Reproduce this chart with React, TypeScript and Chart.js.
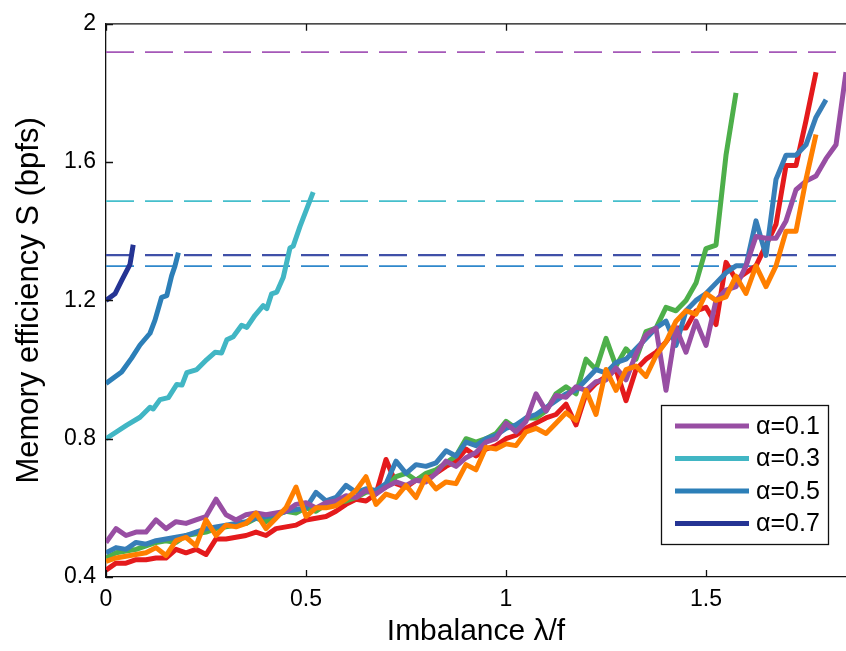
import React, { useEffect, useRef } from "react";
import { Chart, registerables } from "chart.js";

Chart.register(...registerables);

// ---------- data ----------
const lambdaGrid = [
  0, 0.025, 0.05, 0.075, 0.1, 0.125, 0.15, 0.175, 0.2, 0.225,
  0.25, 0.275, 0.3, 0.325, 0.35, 0.375, 0.4, 0.425, 0.45, 0.475,
  0.5, 0.525, 0.55, 0.575, 0.6, 0.625, 0.65, 0.675, 0.7, 0.725,
  0.75, 0.775, 0.8, 0.825, 0.85, 0.875, 0.9, 0.925, 0.95, 0.975,
  1.0, 1.025, 1.05, 1.075, 1.1, 1.125, 1.15, 1.175, 1.2, 1.225,
  1.25, 1.275, 1.3, 1.325, 1.35, 1.375, 1.4, 1.425, 1.45, 1.475,
  1.5, 1.525, 1.55, 1.575, 1.6, 1.625, 1.65, 1.675, 1.7, 1.725,
  1.75, 1.775, 1.8, 1.825, 1.85,
];

const sPurple = [
  0.50, 0.54, 0.52, 0.53, 0.53, 0.565, 0.54, 0.56, 0.555, 0.565,
  0.575, 0.625, 0.58, 0.565, 0.58, 0.585, 0.58, 0.585, 0.59, 0.61,
  0.615, 0.60, 0.615, 0.62, 0.635, 0.63, 0.65, 0.64, 0.66, 0.675,
  0.665, 0.68, 0.675, 0.70, 0.735, 0.72, 0.745, 0.76, 0.79, 0.80,
  0.845, 0.82, 0.85, 0.93, 0.88, 0.925, 0.92, 0.95, 0.94, 0.965,
  0.97, 1.005, 0.97, 1.045, 1.10, 1.12, 0.94, 1.12, 1.05, 1.14,
  1.07, 1.20, 1.23, 1.24, 1.30, 1.385, 1.38, 1.38, 1.43, 1.52,
  1.545, 1.56, 1.61, 1.65, 1.86,
];

const sRed = [
  0.42, 0.44, 0.44, 0.45, 0.45, 0.455, 0.455, 0.48, 0.47, 0.48,
  0.465, 0.51, 0.51, 0.515, 0.52, 0.53, 0.52, 0.54, 0.545, 0.55,
  0.565, 0.57, 0.575, 0.59, 0.61, 0.625, 0.62, 0.64, 0.74, 0.67,
  0.66, 0.68, 0.695, 0.70, 0.72, 0.735, 0.77, 0.75, 0.77, 0.78,
  0.80, 0.81, 0.83, 0.845, 0.86, 0.87, 0.90, 0.84, 0.93, 0.96,
  0.98, 1.00, 0.91, 1.00, 1.03, 1.05, 1.08, 1.12, 1.12, 1.17,
  1.18, 1.13, 1.31, 1.26, 1.28, 1.30, 1.36, 1.42, 1.59, 1.59,
  1.72, 1.86,
];

const sGreen = [
  0.455, 0.47, 0.475, 0.48, 0.49, 0.50, 0.505, 0.50, 0.52, 0.525,
  0.53, 0.54, 0.545, 0.55, 0.555, 0.57, 0.56, 0.58, 0.59, 0.585,
  0.60, 0.59, 0.61, 0.615, 0.62, 0.63, 0.645, 0.65, 0.66, 0.69,
  0.70, 0.68, 0.70, 0.71, 0.73, 0.75, 0.80, 0.79, 0.80, 0.815,
  0.85, 0.83, 0.86, 0.86, 0.88, 0.93, 0.95, 0.93, 1.03, 1.00,
  1.09, 1.01, 1.06, 1.03, 1.11, 1.12, 1.18, 1.17, 1.20, 1.25,
  1.35, 1.36, 1.62, 1.80,
];

const sBlue = [
  0.47, 0.485, 0.48, 0.50, 0.495, 0.505, 0.51, 0.515, 0.52, 0.53,
  0.54, 0.545, 0.55, 0.555, 0.56, 0.57, 0.575, 0.58, 0.59, 0.595,
  0.60, 0.645, 0.62, 0.63, 0.665, 0.645, 0.655, 0.65, 0.67, 0.735,
  0.70, 0.725, 0.72, 0.73, 0.765, 0.75, 0.79, 0.78, 0.80, 0.81,
  0.83, 0.84, 0.86, 0.87, 0.89, 0.91, 0.93, 0.94, 0.97, 1.00,
  0.99, 1.02, 1.03, 1.06, 1.09, 1.12, 1.14, 1.07, 1.17, 1.20,
  1.22, 1.25, 1.28, 1.30, 1.30, 1.43, 1.33, 1.55, 1.62, 1.62,
  1.65, 1.73, 1.78,
];

const sOrange = [
  0.445, 0.455, 0.46, 0.465, 0.47, 0.485, 0.462, 0.505, 0.515, 0.49,
  0.565, 0.52, 0.55, 0.545, 0.555, 0.585, 0.54, 0.57, 0.60, 0.66,
  0.575, 0.60, 0.60, 0.606, 0.625, 0.65, 0.69, 0.61, 0.64, 0.63,
  0.665, 0.63, 0.69, 0.655, 0.675, 0.67, 0.725, 0.71, 0.775, 0.77,
  0.785, 0.78, 0.82, 0.83, 0.815, 0.845, 0.875, 0.853, 0.94, 0.87,
  1.00, 0.94, 1.00, 1.01, 0.98, 1.04, 1.08, 1.14, 1.17, 1.16,
  1.22, 1.20, 1.21, 1.27, 1.22, 1.30, 1.24, 1.30, 1.40, 1.40,
  1.55, 1.68,
];

const alpha03X = [0, 0.052, 0.085, 0.11, 0.118, 0.135, 0.156, 0.177, 0.19, 0.202, 0.227, 0.252, 0.2725, 0.289, 0.302, 0.318, 0.339, 0.352, 0.3725, 0.393, 0.402, 0.414, 0.427, 0.443, 0.46, 0.468, 0.485, 0.518];
const alpha03Y = [0.80, 0.839, 0.862, 0.891, 0.886, 0.913, 0.919, 0.957, 0.955, 0.991, 1.0, 1.029, 1.05, 1.048, 1.086, 1.095, 1.128, 1.122, 1.157, 1.185, 1.176, 1.219, 1.224, 1.266, 1.352, 1.357, 1.414, 1.513];

const alpha05X = [0, 0.039, 0.064, 0.085, 0.11, 0.1225, 0.139, 0.152, 0.164, 0.1725, 0.181];
const alpha05Y = [0.96, 0.993, 1.033, 1.071, 1.105, 1.143, 1.209, 1.214, 1.271, 1.30, 1.338];

const alpha07X = [0, 0.0225, 0.039, 0.06, 0.068];
const alpha07Y = [1.20, 1.219, 1.257, 1.304, 1.361];

const boundX = [0, 1.85];
const boundAlpha01 = 1.918;
const boundAlpha03 = 1.487;
const boundAlpha05 = 1.299;
const boundAlpha07 = 1.331;

const legendLabels = ["α=0.1", "α=0.3", "α=0.5", "α=0.7"];
const xTickValues = [0, 0.5, 1, 1.5];
const xTickLabels = ["0", "0.5", "1", "1.5"];
const yTickValues = [0.4, 0.8, 1.2, 1.6, 2];
const yTickLabels = ["0.4", "0.8", "1.2", "1.6", "2"];

// ---------- styles ----------
const FONT = "'Liberation Sans', Arial, Helvetica, sans-serif";
const C = {
  purple: "#984ea3",
  red: "#e41a1c",
  green: "#4daf4a",
  blue: "#377eb8",
  orange: "#ff7f00",
  a03: "#41b6c4",
  a05: "#2c7fb8",
  a07: "#253494",
  dPurple: "#a558b8",
  dCyan: "#45bfcc",
  dBlue: "#2f88cc",
  dNavy: "#4050a8",
};

const pts = (xs: number[], ys: number[]) => ys.map((y, i) => ({ x: xs[i], y }));
const flat = (v: number) => boundX.map((x) => ({ x, y: v }));

const frameTicks = {
  id: "frameTicks",
  afterDatasetsDraw(chart: any) {
    const { ctx, chartArea: a, scales } = chart;
    const x = scales.x;
    const y = scales.y;
    ctx.save();
    ctx.strokeStyle = "#111";
    ctx.lineWidth = 1.3;
    ctx.beginPath();
    ctx.moveTo(a.left, a.top);
    ctx.lineTo(a.right, a.top);
    x.ticks.forEach((t: any) => {
      const px = Math.round(x.getPixelForValue(t.value)) + 0.5;
      ctx.moveTo(px, a.bottom);
      ctx.lineTo(px, a.bottom - 7);
      ctx.moveTo(px, a.top);
      ctx.lineTo(px, a.top + 7);
    });
    y.ticks.forEach((t: any) => {
      const py = Math.round(y.getPixelForValue(t.value)) + 0.5;
      ctx.moveTo(a.left, py);
      ctx.lineTo(a.left + 7, py);
    });
    ctx.stroke();
    ctx.restore();
  },
};

const boxLegend = {
  id: "boxLegend",
  afterDraw(chart: any) {
    const { ctx, chartArea: a } = chart;
    const items = chart.data.datasets.filter((d: any) => d.legendIndex !== undefined)
      .sort((p: any, q: any) => p.legendIndex - q.legendIndex);
    const w = 167;
    const h = 139;
    const left = a.right - 18 - w;
    const top = a.bottom - 33 - h;
    ctx.save();
    ctx.fillStyle = "#fff";
    ctx.fillRect(left, top, w, h);
    ctx.strokeStyle = "#111";
    ctx.lineWidth = 1.3;
    ctx.strokeRect(left + 0.5, top + 0.5, w, h);
    ctx.font = `25px ${FONT}`;
    ctx.textBaseline = "middle";
    ctx.textAlign = "left";
    items.forEach((d: any, i: number) => {
      const yy = top + 21 + i * 32.5;
      ctx.strokeStyle = d.borderColor;
      ctx.lineWidth = 5;
      ctx.beginPath();
      ctx.moveTo(left + 14, yy);
      ctx.lineTo(left + 88, yy);
      ctx.stroke();
      ctx.fillStyle = "#000";
      ctx.fillText(legendLabels[d.legendIndex], left + 95, yy + 1);
    });
    ctx.restore();
  },
};

export default function App() {
  const ref = useRef<HTMLCanvasElement>(null);

  useEffect(() => {
    document.body.style.margin = "0";
    const line = (data: any[], color: string, order: number, extra: any = {}) => ({
      data,
      borderColor: color,
      backgroundColor: color,
      borderWidth: 5,
      pointRadius: 0,
      fill: false,
      tension: 0,
      borderJoinStyle: "round",
      borderCapStyle: "butt",
      order,
      ...extra,
    });
    const dashed = (v: number, color: string, width: number) => ({
      data: flat(v),
      borderColor: color,
      borderWidth: width,
      borderDash: [28, 11],
      pointRadius: 0,
      fill: false,
      order: 100,
    });

    const chart = new Chart(ref.current as HTMLCanvasElement, {
      type: "line",
      data: {
        datasets: [
          dashed(boundAlpha01, C.dPurple, 1.6),
          dashed(boundAlpha03, C.dCyan, 1.6),
          dashed(boundAlpha05, C.dBlue, 1.6),
          dashed(boundAlpha07, C.dNavy, 2.4),
          line(pts(lambdaGrid, sRed), C.red, 50),
          line(pts(lambdaGrid, sGreen), C.green, 40),
          line(pts(lambdaGrid, sBlue), C.blue, 30),
          line(pts(lambdaGrid, sPurple), C.purple, 20, { legendIndex: 0 }),
          line(pts(lambdaGrid, sOrange), C.orange, 10),
          line(pts(alpha03X, alpha03Y), C.a03, 5, { legendIndex: 1 }),
          line(pts(alpha05X, alpha05Y), C.a05, 5, { legendIndex: 2 }),
          line(pts(alpha07X, alpha07Y), C.a07, 5, { legendIndex: 3 }),
        ] as any,
      },
      options: {
        responsive: false,
        animation: false,
        devicePixelRatio: 1,
        layout: { padding: { top: 16, left: 0, right: 0, bottom: 0 } },
        plugins: {
          legend: { display: false },
          tooltip: { enabled: false },
        },
        scales: {
          x: {
            type: "linear",
            min: 0,
            max: 1.85,
            afterBuildTicks: (s: any) => {
              s.ticks = xTickValues.map((v) => ({ value: v }));
            },
            afterFit: (s: any) => {
              s.height = 74;
            },
            ticks: {
              autoSkip: false,
              maxRotation: 0,
              padding: 9,
              color: "#000",
              font: { family: FONT, size: 23 },
              callback: (_v: any, i: number) => xTickLabels[i],
            },
            grid: { display: true, drawOnChartArea: false, drawTicks: false },
            border: { display: true, color: "#111", width: 1.3 },
            title: {
              display: true,
              text: "Imbalance λ/f",
              color: "#000",
              font: { family: FONT, size: 30 },
              padding: { top: 0, bottom: 1 },
            },
          },
          y: {
            type: "linear",
            min: 0.4,
            max: 2,
            afterBuildTicks: (s: any) => {
              s.ticks = yTickValues.map((v) => ({ value: v }));
            },
            afterFit: (s: any) => {
              s.width = 106;
            },
            ticks: {
              autoSkip: false,
              padding: 10,
              color: "#000",
              font: { family: FONT, size: 23 },
              callback: (_v: any, i: number) => yTickLabels[i],
            },
            grid: { display: true, drawOnChartArea: false, drawTicks: false },
            border: { display: true, color: "#111", width: 1.3 },
            title: {
              display: true,
              text: "Memory efficiency S (bpfs)",
              color: "#000",
              font: { family: FONT, size: 31 },
              padding: { top: 11, bottom: 0 },
            },
          },
        },
      },
      plugins: [frameTicks, boxLegend],
    } as any);
    return () => chart.destroy();
  }, []);

  return (
    <div style={{ width: 846, height: 651 }}>
      <canvas ref={ref} width={846} height={651} style={{ display: "block" }} />
    </div>
  );
}
